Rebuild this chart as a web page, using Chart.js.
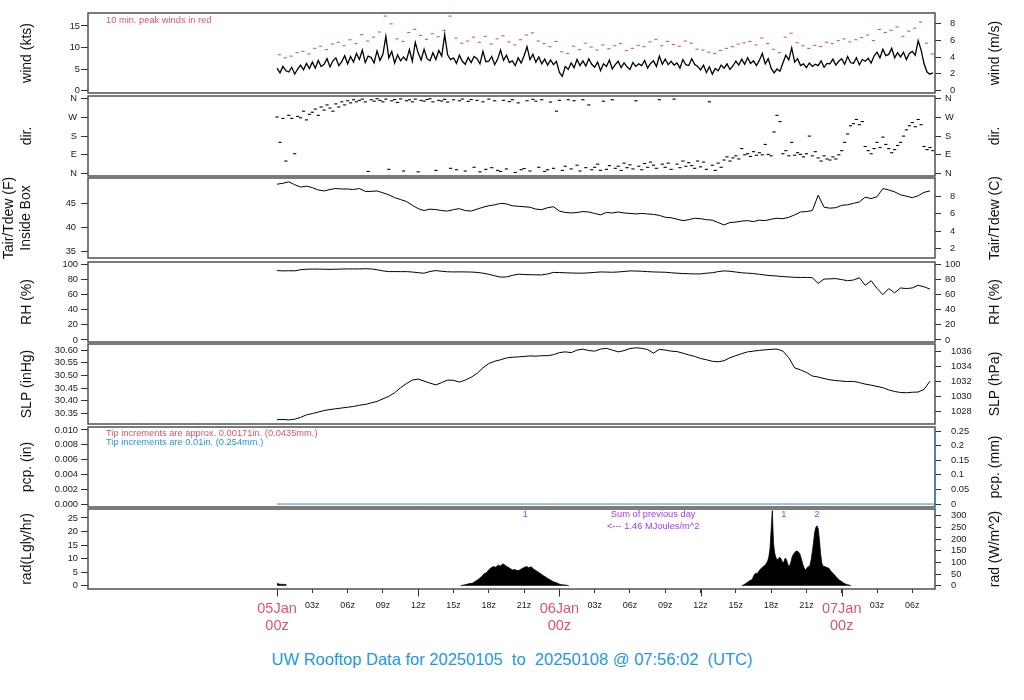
<!DOCTYPE html>
<html>
<head>
<meta charset="utf-8">
<title>UW Rooftop Data</title>
<script src="https://cdn.jsdelivr.net/npm/chart.js"></script>
<style>
  html, body { margin: 0; padding: 0; background: #fff; }
  #page { position: relative; width: 1024px; height: 700px; overflow: hidden; }
  .panel { position: absolute; left: 0; width: 1024px; }
  #title { position: absolute; left: 0; top: 650px; width: 1024px; text-align: center; white-space: pre;
           font-family: "Liberation Sans", Arial, sans-serif; font-size: 16.5px; color: #2297E6; }
</style>
</head>
<body>
<div id="page">
  <div id="title">UW Rooftop Data for 20250105  to  20250108 @ 07:56:02  (UTC)</div>
</div>
<script>
// time is hours after 05Jan 00z
const X_MIN = -16.07, X_MAX = 55.93;

// wind speed (kts), every 15 min
const windStart = 0, windStep = 0.25;
const windKts = [
  5.2, 4.1, 5.6, 4.6, 4.3, 5.4, 3.8, 5.0,
  5.9, 4.8, 6.3, 5.1, 6.6, 5.2, 7.0, 5.6,
  6.1, 7.4, 5.5, 6.9, 7.6, 5.8, 6.7, 8.1,
  6.2, 7.9, 6.6, 8.6, 7.2, 9.4, 6.5, 8.0,
  7.7, 6.4, 9.2, 7.0, 8.4, 12.6, 7.6, 9.1,
  6.4, 8.3, 6.9, 7.8, 7.0, 9.5, 6.8, 11.2,
  8.7, 7.1, 9.6, 7.4, 6.9, 8.8, 7.2, 9.3,
  8.0, 13.0, 8.3, 7.2, 7.6, 6.3, 8.2, 6.8,
  6.1, 7.7, 6.5, 7.9, 7.4, 6.2, 9.1, 6.7,
  6.8, 7.9, 6.0, 7.3, 9.4, 7.0, 8.2, 6.5,
  6.9, 5.8, 7.6, 6.4, 8.1, 10.2, 7.2, 8.4,
  6.6, 7.8, 6.2, 7.3, 5.9, 7.1, 6.0, 6.8,
  4.2, 3.3, 5.6, 4.9, 6.4, 5.3, 7.2, 5.8,
  6.9, 5.7, 7.4, 6.1, 5.4, 6.6, 4.6, 6.2,
  5.6, 7.1, 5.0, 6.0, 6.8, 5.3, 6.4, 5.5,
  4.9, 6.5, 5.6, 6.2, 5.8, 7.0, 5.2, 6.3,
  6.9, 5.6, 8.0, 6.1, 7.3, 6.0, 6.8, 5.9,
  6.4, 5.2, 7.2, 6.0, 5.8, 7.4, 6.1, 5.6,
  4.8, 5.9, 4.2, 5.5, 3.8, 5.1, 4.6, 5.9,
  5.2, 6.2, 4.9, 5.7, 6.8, 5.9, 7.3, 6.1,
  7.6, 6.3, 6.9, 5.8, 7.0, 8.6, 6.2, 7.4,
  5.2, 4.1, 5.0, 4.5, 6.4, 8.2, 7.1, 9.9,
  6.6, 7.4, 5.8, 6.2, 5.3, 6.4, 5.6, 6.1,
  5.8, 6.9, 5.4, 6.3, 6.2, 7.3, 5.9, 6.8,
  7.4, 6.1, 7.9, 6.5, 6.3, 7.6, 6.0, 7.2,
  6.8, 7.5, 6.4, 8.0, 8.9, 7.6, 9.6, 8.1,
  8.4, 9.8, 7.6, 8.8, 7.8, 8.9, 7.2, 8.6,
  9.1, 8.2, 11.6, 9.4, 6.2, 4.3, 3.8, 4.1
];

// 10 min. peak winds (kts), every 30 min
const peakStart = 0.2, peakStep = 0.5;
const peakKts = [
  8.3, 7.6, 8.0, 8.8, 9.1, 8.5, 9.8, 10.3, 9.5, 10.8,
  11.2, 10.4, 11.8, 10.9, 13.0, 11.5, 12.4, 13.6, 17.3, 15.5,
  12.0, 11.4, 13.5, 14.2, 12.8, 11.9, 13.2, 12.5, 14.0, 17.3,
  12.2, 11.0, 11.5, 12.4, 11.2, 12.6, 10.8, 12.0, 12.7, 11.3,
  10.6, 11.8, 12.9, 13.4, 11.5, 10.9, 10.2, 11.4, 9.0, 8.6,
  10.3, 9.5, 11.0, 10.1, 9.4, 10.6, 9.7, 10.4, 10.9, 9.3,
  9.8, 10.5, 10.2, 11.3, 11.9, 10.4, 11.4, 10.7, 10.3, 11.5,
  11.0, 9.6, 9.4, 8.9, 8.6, 9.3, 9.8, 10.2, 10.8, 11.1,
  11.4, 10.6, 12.2, 10.9, 9.6, 8.8, 12.4, 13.3, 11.1, 10.4,
  9.8, 10.5, 10.2, 11.2, 10.9, 11.6, 12.0, 11.3, 11.8, 12.3,
  12.9, 11.6, 14.2, 13.5, 14.0, 14.8, 12.6, 13.8, 14.5, 15.9,
  11.0, 8.5
];

// wind direction (deg, 0 = N), every 15 min
const dirStart = 0, dirStep = 0.25;
const dirDeg = [
  272, 150, 265, 60, 280, 265, 95, 275,
  268, 300, 258, 285, 295, 310, 280, 320,
  305, 330, 315, 300, 335, 320, 345, 330,
  350, 340, 355, 345, 352, 358, 345, 10,
  355, 348, 360, 352, 345, 358, 20, 350,
  356, 342, 359, 12, 350, 355, 345, 358,
  8, 352, 348, 356, 360, 345, 15, 352,
  349, 357, 344, 25, 355, 18, 350, 358,
  12, 347, 356, 30, 352, 8, 345, 20,
  358, 28, 350, 15, 10, 352, 22, 346,
  355, 5, 340, 18, 24, 350, 12, 357,
  348, 30, 355, 10, 18, 344, 25, 300,
  352, 15, 35, 355, 22, 350, 40, 12,
  355, 28, 330, 18, 30, 45, 15, 348,
  20, 38, 355, 25, 35, 15, 50, 28,
  42, 22, 350, 35, 18, 48, 30, 55,
  40, 25, 355, 45, 30, 50, 20, 358,
  45, 28, 60, 35, 52, 38, 25, 60,
  32, 55, 20, 345, 40, 15, 50, 30,
  65, 80, 60, 75, 85, 70, 120, 90,
  95, 82, 105, 88, 100, 90, 140, 92,
  85, 200, 280, 250, 95, 110, 85, 150,
  88, 100, 92, 80, 95, 180, 85, 105,
  75, 60, 85, 70, 65, 80, 70, 90,
  110, 150, 190, 230, 240, 260, 235, 250,
  130, 110, 95, 120, 150, 125, 175, 140,
  120, 100, 115, 135, 150, 180, 210, 230,
  245, 225, 260, 235, 130, 115, 125, 110
];

// state variables, every 30 min
const stateStart = 0, stateStep = 0.5;
const tempF = [
  49.0, 49.2, 49.5, 48.9, 48.4, 48.6, 48.3, 47.8, 47.6, 47.9,
  48.1, 48.0, 48.0, 47.9, 48.1, 47.5, 47.5, 47.6, 47.2, 46.8,
  46.2, 45.8, 45.4, 44.6, 43.9, 43.5, 43.8, 43.7, 43.5, 43.4,
  43.7, 43.9, 43.5, 43.4, 43.8, 44.2, 44.5, 44.7, 45.0, 44.9,
  44.5, 44.4, 44.3, 44.2, 43.8, 43.7, 44.1, 44.3, 43.4, 43.1,
  43.0, 43.1, 43.3, 43.2, 42.9, 42.6, 43.1, 43.0, 43.2, 43.0,
  42.9, 42.8, 42.9, 42.8, 42.7, 42.5, 42.1, 42.0, 41.7, 41.4,
  41.6, 41.9, 41.8, 41.6, 41.5, 41.0, 40.5, 41.0, 41.1, 41.3,
  41.4, 41.2, 41.5, 41.4, 41.7, 41.9, 41.8, 42.1, 42.6, 43.2,
  43.3, 43.5, 46.7, 44.2, 44.0, 44.1, 44.6, 44.7, 45.0, 45.3,
  46.3, 46.0, 46.4, 48.1, 47.8, 47.4, 46.8, 46.5, 46.2, 46.6,
  47.3, 47.6
];
const rhPct = [
  91.4, 91.0, 91.2, 91.0, 92.5, 93.2, 93.4, 93.3, 93.2, 93.0,
  93.2, 93.4, 93.6, 93.6, 93.5, 93.8, 93.6, 92.5, 91.0, 90.0,
  90.1, 90.0, 90.0, 89.5, 88.6, 87.9, 90.2, 91.4, 90.5, 89.8,
  89.6, 89.7, 89.6, 89.5, 89.0, 88.0, 86.5, 84.5, 82.8, 83.0,
  85.0, 86.6, 86.2, 86.0, 85.8, 85.7, 87.0, 89.0, 88.8, 88.5,
  88.2, 88.0, 88.0, 88.4, 89.0, 89.6, 89.4, 89.2, 89.6, 90.2,
  91.0, 90.8, 90.5, 90.0, 89.6, 89.4, 89.2, 88.5, 88.0, 87.5,
  87.2, 87.0, 87.0, 88.0, 88.5, 90.0, 91.0, 90.5, 89.5, 88.5,
  88.0, 87.5, 86.5, 85.5, 84.7, 84.2, 83.5, 83.0, 82.5, 82.3,
  82.4, 82.0, 74.5, 80.2, 80.5, 80.8, 79.5, 78.0, 79.0, 82.0,
  72.0, 78.0, 68.0, 59.7, 67.7, 62.0, 68.5, 67.7, 68.5, 72.0,
  70.0, 67.0
];
const slpInHg = [
  30.326, 30.327, 30.325, 30.328, 30.335, 30.345, 30.350, 30.356, 30.362, 30.366,
  30.369, 30.372, 30.375, 30.378, 30.383, 30.386, 30.392, 30.398, 30.408, 30.418,
  30.432, 30.452, 30.468, 30.482, 30.486, 30.478, 30.470, 30.463, 30.472, 30.482,
  30.481, 30.474, 30.482, 30.493, 30.508, 30.530, 30.547, 30.556, 30.562, 30.569,
  30.572, 30.573, 30.575, 30.577, 30.576, 30.578, 30.578, 30.582, 30.590, 30.593,
  30.590, 30.600, 30.604, 30.598, 30.596, 30.604, 30.607, 30.600, 30.593, 30.598,
  30.606, 30.609, 30.607, 30.602, 30.588, 30.603, 30.600, 30.596, 30.594, 30.588,
  30.581, 30.575, 30.567, 30.562, 30.556, 30.554, 30.558, 30.570, 30.578, 30.586,
  30.593, 30.596, 30.599, 30.601, 30.603, 30.604, 30.596, 30.570, 30.530, 30.522,
  30.512, 30.498, 30.494, 30.488, 30.483, 30.480, 30.478, 30.476, 30.477, 30.472,
  30.466, 30.462, 30.457, 30.452, 30.443, 30.437, 30.433, 30.432, 30.434, 30.435,
  30.445, 30.478
];

// precipitation (in)
const pcpHours = [0, 12, 24, 36, 48, 55.9];
const pcpIn = [0, 0, 0, 0, 0, 0];

// solar radiation (Langley/hr), daylight stretches only
const radNightStart = 0, radNightStep = 0.2;
const radNight = [0.8, 0.6, 0.5, 0.5, 0.4];
const radDay1Start = 15.6, radDay1Step = 0.2;
const radDay1 = [
  0.0, 0.2, 0.4, 0.6, 0.8, 0.9, 1.5, 2.0, 2.7, 3.4,
  4.4, 4.8, 5.9, 6.6, 7.1, 6.8, 7.6, 7.3, 8.1, 7.5,
  6.9, 6.4, 5.8, 6.0, 5.6, 5.7, 6.3, 6.7, 7.1, 6.6,
  7.0, 6.2, 5.6, 5.0, 4.5, 3.8, 3.3, 2.7, 2.2, 1.7,
  1.3, 1.0, 0.6, 0.4, 0.3, 0.2, 0.0
];
const radDay2Start = 39.5, radDay2Step = 0.1;
const radDay2 = [
  0.0, 0.2, 0.4, 0.7, 1.0, 1.3, 1.6, 1.9, 2.1, 2.3,
  3.5, 4.2, 4.6, 4.4, 5.0, 5.6, 6.2, 6.5, 7.0, 7.3,
  7.6, 8.3, 9.0, 10.5, 13.3, 20.5, 27.7, 15.8, 12.0, 10.5,
  9.6, 9.8, 10.5, 10.2, 9.4, 8.3, 9.0, 10.2, 9.6, 8.2,
  7.1, 7.6, 9.0, 10.8, 11.6, 12.2, 12.7, 12.8, 12.5, 12.1,
  11.0, 9.4, 7.8, 6.6, 5.8, 6.2, 6.9, 7.1, 7.5, 9.5,
  12.5, 15.8, 19.6, 21.5, 22.1, 21.0, 17.1, 12.0, 8.5, 7.3,
  7.1, 7.0, 6.8, 6.6, 6.5, 5.8, 5.3, 4.8, 4.4, 4.0,
  3.4, 2.9, 2.5, 2.1, 1.8, 1.5, 1.2, 0.9, 0.7, 0.5,
  0.4, 0.3, 0.1, 0.0
];
const radMarkHours = [21.1, 43.08, 45.88];
const radMarkText = ['1', '1', '2'];
const radSumHour = 31.97;
const radSumText = ['Sum of previous day', '<--- 1.46 MJoules/m^2'];

// axis ticks
const xTickHours = [0, 3, 6, 9, 12, 15, 18, 21, 24, 27, 30, 33, 36, 39, 42, 45, 48, 51, 54];
const xTickLabels = [['05Jan', '00z'], '03z', '06z', '09z', '12z', '15z', '18z', '21z',
  ['06Jan', '00z'], '03z', '06z', '09z', '12z', '15z', '18z', '21z',
  ['07Jan', '00z'], '03z', '06z'];
const xLongTickHours = [0, 12, 24, 36, 48];
const windTicks = [0, 5, 10, 15];
const windMsTicks = [0, 2, 4, 6, 8];
const dirTicks = [0, 90, 180, 270, 360];
const dirLabels = ['N', 'E', 'S', 'W', 'N'];
const tempFTicks = [35, 40, 45];
const tempCTicks = [2, 4, 6, 8];
const rhTicks = [0, 20, 40, 60, 80, 100];
const slpTicks = [30.35, 30.40, 30.45, 30.50, 30.55, 30.60];
const hpaTicks = [1028, 1030, 1032, 1034, 1036];
const pcpTicks = [0, 0.002, 0.004, 0.006, 0.008, 0.010];
const mmTicks = [0, 0.05, 0.1, 0.15, 0.2, 0.25];
const radTicks = [0, 5, 10, 15, 20, 25];
const wm2Ticks = [0, 50, 100, 150, 200, 250, 300];

// ---- drawing ----
const FONT = '"Liberation Sans", Arial, Helvetica, sans-serif';
const PINK = '#DF536B', BLUE = '#2297E6', PURPLE = '#A53AF0', INK = '#1a1a1a', FRAME = '#505050';
const LEFT_W = 88, RIGHT_W = 89, PANEL_H = 80, PAD = 8, XAXIS_H = 46;
const KTS_PER_MS = 1.94384, HPA_PER_INHG = 33.8639, MM_PER_IN = 25.4, WM2_PER_LY = 11.63;

Chart.defaults.font.family = FONT;

function pts(t0, step, vals) {
  return vals.map((v, i) => ({ x: +(t0 + i * step).toFixed(3), y: v }));
}
function lineDs(data, color, width) {
  return { data, borderColor: color, borderWidth: width, pointRadius: 0, tension: 0, fill: false };
}
function dashDs(data, color) {
  return { data, showLine: false, pointStyle: 'line', pointRadius: 1.6, pointBorderWidth: 1.1,
           pointBorderColor: color, borderColor: color };
}

const radData = [
  ...pts(radNightStart, radNightStep, radNight), { x: 1.2, y: null },
  ...pts(radDay1Start, radDay1Step, radDay1), { x: 25.2, y: null },
  ...pts(radDay2Start, radDay2Step, radDay2)
];

const panels = [
  { top: 13, min: -0.58, max: 18.02, ticks: windTicks, fmt: String, title: 'wind (kts)', tpad: 19, lpad: 1,
    conv: v => v / KTS_PER_MS, rticks: windMsTicks, rfmt: String, rtitle: 'wind (m/s)', rpad: 9,
    notes: [{ text: '10 min. peak winds in red', color: PINK, dx: 18, dy: 7 }],
    datasets: [lineDs(pts(windStart, windStep, windKts), '#000', 1.3), dashDs(pts(peakStart, peakStep, peakKts), PINK)] },
  { top: 96, min: -12, max: 373, ticks: dirTicks, fmt: v => dirLabels[dirTicks.indexOf(v)], title: 'dir.', tpad: 19, lpad: 4,
    conv: v => v, rticks: dirTicks, rfmt: v => dirLabels[dirTicks.indexOf(v)], rtitle: 'dir.', rpad: 4,
    datasets: [dashDs(pts(dirStart, dirStep, dirDeg), '#000')] },
  { top: 178, min: 33.6, max: 50.3, ticks: tempFTicks, fmt: String, title: ['Tair/Tdew (F)', 'Inside Box'], tpad: 1, lpad: 5,
    conv: v => (v - 32) / 1.8, rticks: tempCTicks, rfmt: String, rtitle: 'Tair/Tdew (C)', rpad: 9,
    datasets: [lineDs(pts(stateStart, stateStep, tempF), '#000', 1)] },
  { top: 262, min: -2.7, max: 102.7, ticks: rhTicks, fmt: String, title: 'RH (%)', tpad: 19, lpad: 3,
    conv: v => v, rticks: rhTicks, rfmt: String, rtitle: 'RH (%)', rpad: 4,
    datasets: [lineDs(pts(stateStart, stateStep, rhPct), '#000', 1)] },
  { top: 344, min: 30.309, max: 30.624, ticks: slpTicks, fmt: v => v.toFixed(2), title: 'SLP (inHg)', tpad: 19, lpad: 3,
    conv: v => v * HPA_PER_INHG, rticks: hpaTicks, rfmt: String, rtitle: 'SLP (hPa)', rpad: 10,
    datasets: [lineDs(pts(stateStart, stateStep, slpInHg), '#000', 1)] },
  { top: 427, min: -0.0004, max: 0.0104, ticks: pcpTicks, fmt: v => v.toFixed(3), title: 'pcp. (in)', tpad: 19, lpad: 3,
    conv: v => v * MM_PER_IN, rticks: mmTicks, rfmt: String, rtitle: 'pcp. (mm)', rpad: 10, edge: '#4682B4',
    notes: [{ text: 'Tip increments are approx. 0.00171in. (0.0435mm.)', color: PINK, dx: 18, dy: 6.5 },
            { text: 'Tip increments are 0.01in. (0.254mm.)', color: BLUE, dx: 18, dy: 15.5 }],
    datasets: [lineDs(pcpHours.map((h, i) => ({ x: h, y: pcpIn[i] })), '#4682B4', 1)] },
  { top: 509, min: -1.2, max: 28.3, ticks: radTicks, fmt: String, title: 'rad(Lgly/hr)', tpad: 19, lpad: 3,
    conv: v => v * WM2_PER_LY, rticks: wm2Ticks, rfmt: String, rtitle: 'rad (W/m^2)', rpad: 10,
    notes: [
      ...radMarkHours.map((h, i) => ({ text: radMarkText[i], color: PURPLE, hour: h, dy: 5.5, align: 'center' })),
      { text: radSumText[0], color: PURPLE, hour: radSumHour, dy: 5.5, align: 'center' },
      { text: radSumText[1], color: PURPLE, hour: radSumHour, dy: 17, align: 'center' }
    ],
    datasets: [{ data: radData, borderColor: '#000', backgroundColor: '#000', borderWidth: 0.8,
                 pointRadius: 0, tension: 0, fill: 'origin', spanGaps: false }] }
];

function yAxis(side, p) {
  const left = side === 'left';
  const vals = left ? p.ticks : p.rticks;
  const fmt = left ? p.fmt : p.rfmt;
  return {
    type: 'linear', position: side,
    min: left ? p.min : p.conv(p.min), max: left ? p.max : p.conv(p.max),
    afterFit: s => {
      // fixed gutter width, and no extra room asked for the end labels
      s.width = left ? LEFT_W : RIGHT_W;
      s.paddingTop = 0;
      s.paddingBottom = 0;
    },
    afterBuildTicks: s => { s.ticks = vals.map(v => ({ value: v })); },
    ticks: { autoSkip: false, font: { size: 9.3, family: FONT }, color: INK,
             padding: left ? p.lpad : p.rpad, callback: v => fmt(v) },
    grid: { drawOnChartArea: false, drawTicks: true, tickLength: left ? 7 : 6, tickColor: '#333', tickWidth: 1 },
    border: { display: false },
    title: left ? { display: true, text: p.title, color: '#111', font: { size: 14, family: FONT },
                    padding: { top: p.tpad, bottom: 0 } } : { display: false }
  };
}

function xAxis(bottom) {
  if (!bottom) return { type: 'linear', min: X_MIN, max: X_MAX, display: false };
  const isDay = i => Array.isArray(xTickLabels[i]);
  return {
    type: 'linear', position: 'bottom', min: X_MIN, max: X_MAX,
    afterFit: s => {
      s.height = XAXIS_H;
      s.paddingLeft = 0;
      s.paddingRight = 0;
    },
    afterBuildTicks: s => { s.ticks = xTickHours.map(v => ({ value: v })); },
    ticks: {
      autoSkip: false, maxRotation: 0, minRotation: 0, padding: 7,
      callback: (v, i) => xTickLabels[i],
      font: c => ({ size: isDay(c.index) ? 14.5 : 9, family: FONT }),
      color: c => (isDay(c.index) ? PINK : INK)
    },
    grid: { drawOnChartArea: false, drawTicks: true, tickLength: 4, tickColor: '#333' },
    border: { display: false }
  };
}

function decor(p, bottom) {
  return {
    id: 'decor',
    afterDraw(chart) {
      const { ctx, chartArea: a } = chart;
      const xs = chart.scales.x;
      ctx.save();
      ctx.lineWidth = 1.5;
      ctx.strokeStyle = FRAME;
      ctx.strokeRect(a.left, a.top, a.right - a.left, a.bottom - a.top);
      if (p.edge) {
        ctx.strokeStyle = p.edge;
        ctx.beginPath();
        ctx.moveTo(a.right, a.top);
        ctx.lineTo(a.right, a.bottom);
        ctx.stroke();
      }
      if (bottom) {
        ctx.strokeStyle = '#333';
        ctx.lineWidth = 1;
        xLongTickHours.forEach(h => {
          const x = Math.round(xs.getPixelForValue(h)) + 0.5;
          ctx.beginPath();
          ctx.moveTo(x, a.bottom);
          ctx.lineTo(x, a.bottom + 7.5);
          ctx.stroke();
        });
      }
      // right-hand title, reading upwards like the left one
      ctx.save();
      ctx.fillStyle = '#111';
      ctx.font = '14px ' + FONT;
      ctx.textAlign = 'center';
      ctx.textBaseline = 'middle';
      ctx.translate(chart.width - 28.5, (a.top + a.bottom) / 2);
      ctx.rotate(-Math.PI / 2);
      ctx.fillText(p.rtitle, 0, 0);
      ctx.restore();
      (p.notes || []).forEach(n => {
        ctx.fillStyle = n.color;
        ctx.font = '9.3px ' + FONT;
        ctx.textAlign = n.align || 'left';
        ctx.textBaseline = 'middle';
        const x = n.hour !== undefined ? xs.getPixelForValue(n.hour) : a.left + n.dx;
        ctx.fillText(n.text, x, a.top + n.dy);
      });
      ctx.restore();
    }
  };
}

const page = document.getElementById('page');
panels.forEach((p, i) => {
  const bottom = i === panels.length - 1;
  const box = document.createElement('div');
  box.className = 'panel';
  box.style.top = (p.top - PAD) + 'px';
  box.style.height = (PAD + PANEL_H + (bottom ? XAXIS_H : PAD)) + 'px';
  const canvas = document.createElement('canvas');
  box.appendChild(canvas);
  page.appendChild(box);

  new Chart(canvas, {
    type: 'line',
    data: { datasets: p.datasets },
    options: {
      responsive: true,
      maintainAspectRatio: false,
      animation: false,
      layout: { padding: { top: PAD, bottom: bottom ? 0 : PAD, left: 0, right: 0 } },
      plugins: { legend: { display: false }, tooltip: { enabled: false } },
      scales: { x: xAxis(bottom), y: yAxis('left', p), y2: yAxis('right', p) }
    },
    plugins: [decor(p, bottom)]
  });
});
</script>
</body>
</html>
